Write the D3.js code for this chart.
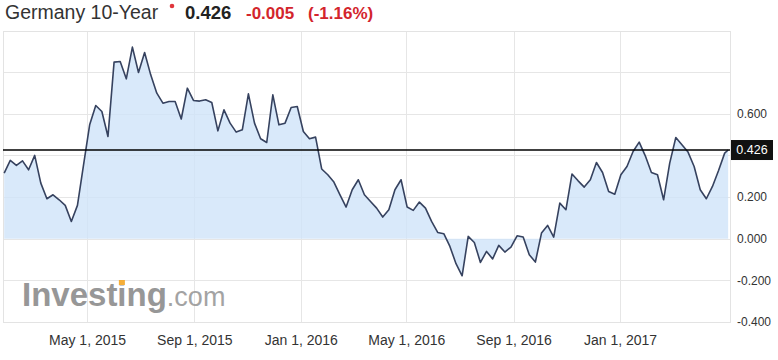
<!DOCTYPE html>
<html>
<head>
<meta charset="utf-8">
<script src="https://cdn.jsdelivr.net/npm/d3@7"></script>
<style>
body { margin: 0; background: #fff; }
svg { display: block; font-family: Arial, "Liberation Sans", sans-serif; }
</style>
</head>
<body>
<div id="chart"></div>
<script>
// weekly closes, first week of the series and the last (partial) day
const firstWeek = new Date(2015, 0, 26);
const lastDay = new Date(2017, 4, 5);

const yields = [
    0.315, 0.376, 0.352, 0.374, 0.331, 0.400, 0.267, 0.192, 0.211, 0.187,
    0.160, 0.083, 0.160, 0.355, 0.547, 0.640, 0.611, 0.491, 0.848, 0.851,
    0.768, 0.920, 0.798, 0.894, 0.787, 0.699, 0.651, 0.659, 0.659, 0.575,
    0.723, 0.664, 0.661, 0.667, 0.654, 0.518, 0.619, 0.555, 0.512, 0.523,
    0.696, 0.555, 0.480, 0.462, 0.691, 0.547, 0.555, 0.630, 0.635, 0.515,
    0.480, 0.488, 0.335, 0.307, 0.272, 0.211, 0.152, 0.235, 0.283, 0.211,
    0.179, 0.147, 0.104, 0.139, 0.235, 0.283, 0.152, 0.136, 0.176, 0.147,
    0.083, 0.030, 0.024, -0.037, -0.120, -0.178, 0.011, -0.018, -0.114, -0.061,
    -0.097, -0.032, -0.064, -0.040, 0.014, 0.008, -0.077, -0.112, 0.027, 0.064,
    0.008, 0.171, 0.139, 0.311, 0.278, 0.248, 0.283, 0.366, 0.318, 0.227,
    0.214, 0.307, 0.347, 0.419, 0.464, 0.398, 0.318, 0.307, 0.187, 0.363,
    0.486, 0.451, 0.416, 0.347, 0.235, 0.192, 0.251, 0.328, 0.411, 0.426
];

const title = "Germany 10-Year";
const lastValue = 0.426;
const changeAbs = "-0.005";
const changePct = "(-1.16%)";

const dateTicks = [
    new Date(2015, 4, 1), new Date(2015, 8, 1), new Date(2016, 0, 1),
    new Date(2016, 4, 1), new Date(2016, 8, 1), new Date(2017, 0, 1)
];
const valueTicks = [0.6, 0.2, 0, -0.2, -0.4];
const gridValues = [0.8, 0.6, 0.4, 0.2, 0, -0.2];

const width = 778, height = 360;
const plot = { left: 3, right: 730, top: 31, bottom: 322 };

const dates = d3.timeMonday.range(firstWeek, d3.timeDay.offset(firstWeek, 7 * (yields.length - 1)));
dates.push(lastDay);
const data = yields.map((v, i) => ({ date: dates[i], value: v }));

const x = d3.scaleTime()
    .domain([new Date(2015, 0, 25), new Date(2017, 4, 7)])
    .range([3.3, 729.9]);

const y = d3.scaleLinear()
    .domain([-0.4, 1.0])
    .range([322, 30.5]);

const svg = d3.select("#chart")
    .append("svg")
    .attr("width", width)
    .attr("height", height);

// title line
svg.append("text")
    .attr("x", 5)
    .attr("y", 19)
    .attr("font-size", 19.5)
    .attr("fill", "#333")
    .text(title);
svg.append("circle")
    .attr("cx", 172)
    .attr("cy", 6)
    .attr("r", 2.3)
    .attr("fill", "#e0363c");
svg.append("text")
    .attr("x", 185)
    .attr("y", 19)
    .attr("font-size", 18.5)
    .attr("font-weight", "bold")
    .attr("fill", "#222")
    .text(lastValue.toFixed(3));
svg.append("text")
    .attr("x", 246)
    .attr("y", 19)
    .attr("font-size", 17)
    .attr("font-weight", "bold")
    .attr("fill", "#d3252c")
    .text(changeAbs);
svg.append("text")
    .attr("x", 308)
    .attr("y", 19)
    .attr("font-size", 17)
    .attr("font-weight", "bold")
    .attr("fill", "#d3252c")
    .text(changePct);

// grid
const grid = svg.append("g")
    .attr("stroke", "#e6e6e6")
    .attr("stroke-width", 1);

grid.selectAll("line.h")
    .data(gridValues)
    .join("line")
    .attr("class", "h")
    .attr("x1", plot.left)
    .attr("x2", plot.right)
    .attr("y1", d => Math.round(y(d)) + 0.5)
    .attr("y2", d => Math.round(y(d)) + 0.5);

grid.selectAll("line.v")
    .data(dateTicks)
    .join("line")
    .attr("class", "v")
    .attr("x1", d => Math.round(x(d)) + 0.5)
    .attr("x2", d => Math.round(x(d)) + 0.5)
    .attr("y1", plot.top)
    .attr("y2", plot.bottom);

svg.append("rect")
    .attr("x", plot.left + 0.5)
    .attr("y", plot.top + 0.5)
    .attr("width", plot.right - plot.left)
    .attr("height", plot.bottom - plot.top)
    .attr("fill", "none")
    .attr("stroke", "#e3e3e3");

// watermark
const logo = svg.append("g")
    .attr("opacity", 0.9);
const logoText = logo.append("text")
    .attr("x", 22)
    .attr("y", 306)
    .attr("fill", "#8c8c8c");
logoText.append("tspan")
    .attr("font-size", 33)
    .attr("font-weight", "bold")
    .text("Investing");
logoText.append("tspan")
    .attr("font-size", 27)
    .attr("fill", "#9a9a9a")
    .text(".com");
const probe = logo.append("text")
    .attr("font-size", 33)
    .attr("font-weight", "bold")
    .attr("visibility", "hidden")
    .text("Invest");
const dotX = 22 + probe.node().getComputedTextLength();
probe.remove();
logo.append("rect")
    .attr("x", dotX + 1.5)
    .attr("y", 280)
    .attr("width", 6)
    .attr("height", 5)
    .attr("fill", "#f5a623");

// area and line
const area = d3.area()
    .x(d => x(d.date))
    .y0(y(0))
    .y1(d => y(d.value));

const line = d3.line()
    .x(d => x(d.date))
    .y(d => y(d.value));

svg.append("path")
    .datum(data)
    .attr("fill", "#cfe3f9")
    .attr("fill-opacity", 0.8)
    .attr("d", area);

svg.append("path")
    .datum(data)
    .attr("fill", "none")
    .attr("stroke", "#36425f")
    .attr("stroke-width", 1.6)
    .attr("stroke-linejoin", "round")
    .attr("d", line);

// last value marker
svg.append("line")
    .attr("x1", plot.left)
    .attr("x2", plot.right)
    .attr("y1", y(lastValue))
    .attr("y2", y(lastValue))
    .attr("stroke", "#000")
    .attr("stroke-width", 1.5);

// axes
const xAxis = g => g
    .attr("transform", `translate(0,${plot.bottom + 10})`)
    .call(d3.axisBottom(x)
        .tickValues(dateTicks)
        .tickFormat(d3.timeFormat("%b %-d, %Y"))
        .tickSize(0)
        .tickPadding(3))
    .call(g => g.select(".domain").remove())
    .call(g => g.selectAll(".tick text")
        .attr("font-size", 14)
        .attr("font-family", "Arial, 'Liberation Sans', sans-serif")
        .attr("fill", "#333"));

const yAxis = g => g
    .attr("transform", `translate(${plot.right + 3},0)`)
    .call(d3.axisRight(y)
        .tickValues(valueTicks)
        .tickFormat(d => d.toFixed(3))
        .tickSize(0)
        .tickPadding(4))
    .call(g => g.select(".domain").remove())
    .call(g => g.selectAll(".tick text")
        .attr("font-size", 12)
        .attr("font-family", "Arial, 'Liberation Sans', sans-serif")
        .attr("fill", "#333"));

svg.append("g").call(xAxis);
svg.append("g").call(yAxis);

svg.append("rect")
    .attr("x", plot.right + 1)
    .attr("y", y(lastValue) - 10)
    .attr("width", 42)
    .attr("height", 20)
    .attr("fill", "#111");
svg.append("text")
    .attr("x", plot.right + 22)
    .attr("y", y(lastValue))
    .attr("dy", "0.35em")
    .attr("text-anchor", "middle")
    .attr("font-size", 12.5)
    .attr("fill", "#fff")
    .text(lastValue.toFixed(3));
</script>
</body>
</html>
